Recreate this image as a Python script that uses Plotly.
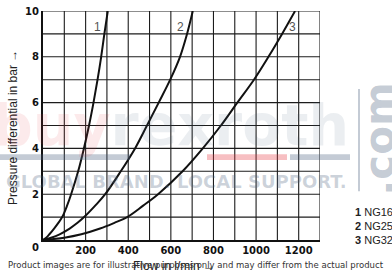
import numpy as np
import plotly.graph_objects as go

# ---- data ----
pressure = [0, 0.1, 0.25, 0.5, 0.75, 1, 1.5, 2, 3, 4, 5, 6, 7, 8, 9, 10]          # bar
flow_ng16 = [0, 15, 30, 52, 72, 90, 113, 132, 165, 192, 216, 237, 256, 273, 288, 304]   # l/min
flow_ng25 = [0, 38, 78, 125, 162, 193, 245, 292, 365, 432, 488, 543, 597, 643, 676, 703]
flow_ng32 = [0, 100, 180, 268, 335, 395, 470, 540, 655, 750, 835, 912, 990, 1058, 1122, 1183]
curve_ids = ["1", "2", "3"]
curve_names = ["NG16", "NG25", "NG32"]
x_ticks = list(range(0, 1301, 100))
x_ticklabels = [str(v) if (v % 200 == 0 and v > 0) else "" for v in x_ticks]
y_ticks = list(range(0, 11))
y_ticklabels = [str(v) if (v % 2 == 0 and v > 0) else "" for v in y_ticks]
X_RANGE = [0, 1300]
Y_RANGE = [0, 10]

W, H = 392, 274
L, R, T, B = 43, 72, 5, 34
PW, PH = W - L - R, H - T - B


def px(x):
    return (x - L) / PW


def py(y):
    return (H - B - y) / PH


fig = go.Figure()

# grid drawn from the tick arrays (one line per tick, spanning the axis range)
gx, gy = [], []
for xv in x_ticks[1:]:
    gx += [xv, xv, None]
    gy += [Y_RANGE[0], Y_RANGE[1], None]
for yv in y_ticks[1:]:
    gx += [X_RANGE[0], X_RANGE[1], None]
    gy += [yv, yv, None]
fig.add_trace(go.Scatter(x=gx, y=gy, mode="lines", line=dict(color="#1c1c1c", width=1.1),
                         hoverinfo="skip", cliponaxis=False))

for flows in (flow_ng16, flow_ng25, flow_ng32):
    fig.add_trace(go.Scatter(x=flows, y=pressure, mode="lines",
                             line=dict(color="#111111", width=2, shape="spline", smoothing=1.0),
                             hoverinfo="skip"))

ann = []


def note(x, y, text, font, **kw):
    d = dict(x=px(x), y=py(y), xref="paper", yref="paper", text=text, showarrow=False,
             xanchor="center", yanchor="middle", font=font)
    d.update(kw)
    ann.append(d)


# curve labels near the top of each curve
for cid, flows, shift in zip(curve_ids, (flow_ng16, flow_ng25, flow_ng32), (-8, -8, 7)):
    ann.append(dict(x=float(np.interp(9.3, pressure, flows)), y=9.3, xref="x", yref="y",
                    text=cid, showarrow=False, xshift=shift, xanchor="center", yanchor="middle",
                    font=dict(family="Liberation Sans", size=12, color="#555555")))

# corner zero
note(35, 248, "<b>0</b>", dict(family="DejaVu Sans", size=10, color="#111111"))

# axis titles
note(13, 125, "Pressure differential in bar →",
     dict(family="Liberation Sans Narrow, Liberation Sans", size=12, color="#222222"), textangle=-90)
note(174, 267, "Flow in l/min →",
     dict(family="Liberation Sans Narrow, Liberation Sans", size=12, color="#222222"))

# watermark
pink = "rgba(230,60,70,0.33)"
gray = "rgba(75,98,126,0.33)"
note(170, 122, f'<b><span style="color:{pink}">buy</span><span style="color:{gray}">rexroth</span></b>',
     dict(family="DejaVu Sans", size=57, color=gray))
note(176, 180, "<b>GLOBAL BRAND. LOCAL SUPPORT.</b>",
     dict(family="DejaVu Sans", size=18, color="rgba(75,98,126,0.28)"))
note(380, 137, "<b>.com</b>", dict(family="DejaVu Sans", size=42, color=gray), textangle=-90)

# legend
for i, (cid, name) in enumerate(zip(curve_ids, curve_names)):
    note(353, 211 + 14.5 * i, f"<b>{cid}</b> {name}",
         dict(family="Liberation Sans", size=11, color="#222222"), xanchor="left")

# footer
note(196, 265.5, "Product images are for illustrative purposes only and may differ from the actual product",
     dict(family="DejaVu Sans", size=8.5, color="#333333"))

shapes = [
    dict(type="rect", xref="paper", yref="paper", x0=px(0), x1=px(130), y0=py(158), y1=py(152),
         fillcolor=gray, line=dict(width=0), layer="above"),
    dict(type="rect", xref="paper", yref="paper", x0=px(207), x1=px(287), y0=py(158), y1=py(152),
         fillcolor=pink, line=dict(width=0), layer="above"),
    dict(type="rect", xref="paper", yref="paper", x0=px(290), x1=px(350), y0=py(158), y1=py(152),
         fillcolor=gray, line=dict(width=0), layer="above"),
    dict(type="line", xref="paper", yref="paper", x0=px(359), x1=px(359), y0=py(190), y1=py(85),
         line=dict(color=gray, width=2), layer="above"),
]

axis_common = dict(tickmode="array", showgrid=False, zeroline=False,
                   showline=True, linecolor="#111111", linewidth=2, ticks="",
                   ticklabeloverflow="allow",
                   tickfont=dict(family="DejaVu Sans", size=10, color="#111111", weight=700))

fig.update_layout(
    width=W, height=H, margin=dict(l=L, r=R, t=T, b=B, pad=0),
    plot_bgcolor="white", paper_bgcolor="white", showlegend=False,
    annotations=ann, shapes=shapes,
    xaxis=dict(range=X_RANGE, tickvals=x_ticks, ticktext=x_ticklabels, **axis_common),
    yaxis=dict(range=Y_RANGE, tickvals=y_ticks, ticktext=y_ticklabels, **axis_common),
)

fig.write_html("out.html")
